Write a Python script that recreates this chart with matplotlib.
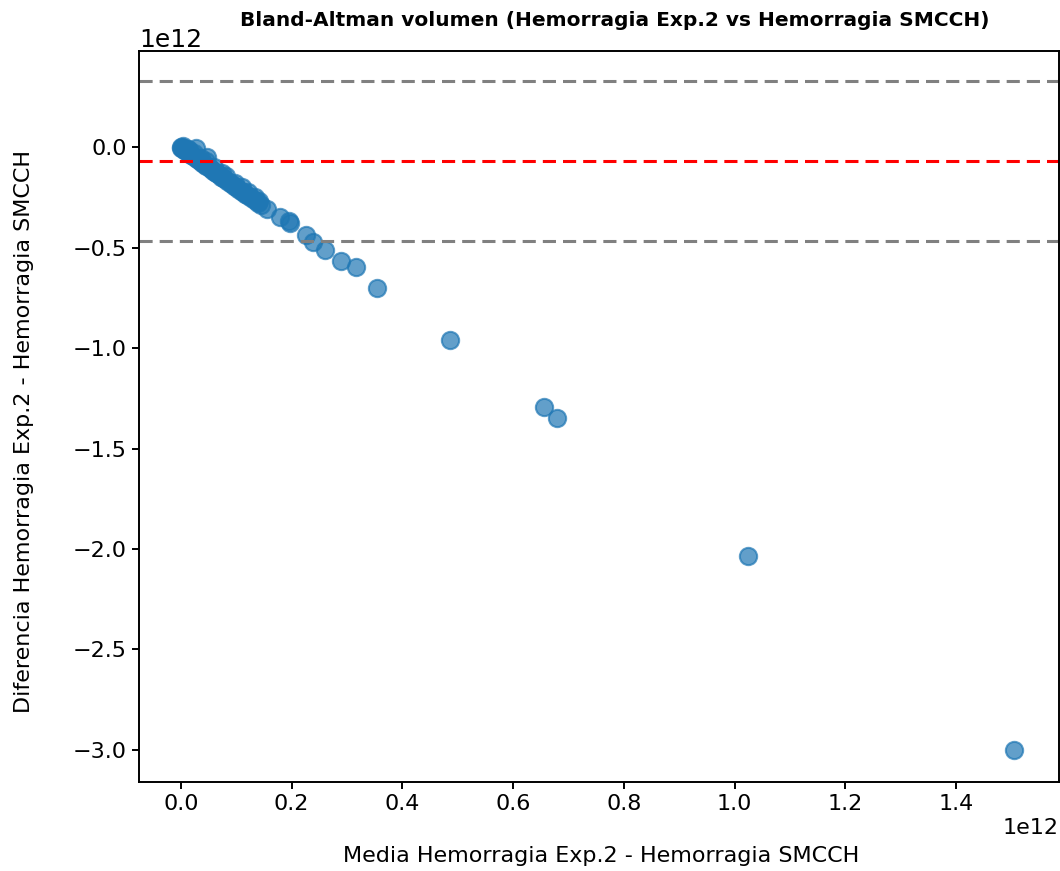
import numpy as np
import matplotlib
matplotlib.use("Agg")
import matplotlib.pyplot as plt

# Values (units of 1e12)
mean_vals = [
    0.000, 0.001, 0.002, 0.003, 0.004, 0.005, 0.006, 0.008, 0.010, 0.012,
    0.014, 0.016, 0.018, 0.020, 0.022, 0.025, 0.027, 0.028, 0.030, 0.032,
    0.035, 0.038, 0.040, 0.043, 0.046, 0.048, 0.050, 0.052, 0.055, 0.058,
    0.061, 0.064, 0.067, 0.070, 0.073, 0.076, 0.080, 0.084, 0.088, 0.092,
    0.096, 0.100, 0.104, 0.108, 0.112, 0.116, 0.120, 0.125, 0.130, 0.135,
    0.140, 0.145, 0.155, 0.179, 0.196, 0.198, 0.226, 0.238, 0.260, 0.289,
    0.316, 0.354, 0.486, 0.656, 0.679, 1.024, 1.505,
    0.015, 0.024, 0.036, 0.045, 0.060, 0.075, 0.082, 0.098, 0.110, 0.122,
    0.133, 0.142, 0.004, 0.012,
]
diff_vals = [
    0.000, -0.002, -0.003, -0.006, -0.004, -0.010, -0.012, -0.016, -0.020, -0.024,
    -0.027, -0.030, -0.036, -0.040, -0.044, -0.050, -0.054, -0.005, -0.060, -0.064,
    -0.070, -0.076, -0.080, -0.086, -0.092, -0.047, -0.100, -0.104, -0.110, -0.116,
    -0.122, -0.128, -0.134, -0.140, -0.146, -0.152, -0.160, -0.168, -0.176, -0.184,
    -0.192, -0.200, -0.208, -0.216, -0.224, -0.232, -0.240, -0.250, -0.258, -0.268,
    -0.278, -0.288, -0.305, -0.349, -0.366, -0.378, -0.438, -0.473, -0.513, -0.568,
    -0.598, -0.702, -0.961, -1.295, -1.350, -2.037, -3.000,
    -0.012, -0.030, -0.052, -0.068, -0.098, -0.128, -0.145, -0.178, -0.200, -0.224,
    -0.248, -0.266, 0.004, -0.008,
]
mean_diff = -0.066
upper_loa = 0.332
lower_loa = -0.468

scale = 1e12
x = np.array(mean_vals) * scale
y = np.array(diff_vals) * scale

fig = plt.figure(figsize=(10.6, 8.71), dpi=100)
ax = fig.add_axes([0.131, 0.102, 0.868, 0.8395])

ax.scatter(x, y, s=155, alpha=0.7, color="#1f77b4", linewidths=1.5)
dash = (4.3, 2.3)
ax.axhline(mean_diff * scale, color="red", linestyle=(0, dash), linewidth=2.2)
ax.axhline(upper_loa * scale, color="gray", linestyle=(0, dash), linewidth=2.2)
ax.axhline(lower_loa * scale, color="gray", linestyle=(0, dash), linewidth=2.2)

ax.set_xlim(-0.0759 * scale, 1.586 * scale)
ax.set_ylim(-3.161 * scale, 0.4796 * scale)
ax.set_xticks(np.arange(0, 1.5, 0.2) * scale)
ax.set_yticks(np.arange(-3.0, 0.01, 0.5) * scale)

ax.tick_params(labelsize=16, width=1.4, length=5)
for spine in ax.spines.values():
    spine.set_linewidth(1.4)

ax.xaxis.get_offset_text().set_fontsize(16)
ax.yaxis.get_offset_text().set_fontsize(18)

fig.text(0.58, 0.977, "Bland-Altman volumen (Hemorragia Exp.2 vs Hemorragia SMCCH)",
         fontsize=14.5, fontweight="bold", ha="center", va="center")
ax.set_xlabel("Media Hemorragia Exp.2 - Hemorragia SMCCH", fontsize=16)
ax.xaxis.set_label_coords(0.502, -0.087)
ax.set_ylabel("Diferencia Hemorragia Exp.2 - Hemorragia SMCCH", fontsize=16)
ax.yaxis.set_label_coords(-0.114, 0.48)

fig.savefig("out.png", dpi=100)
